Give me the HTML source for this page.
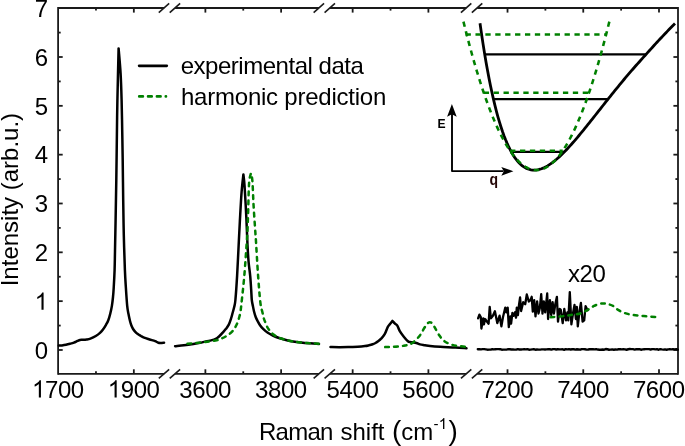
<!DOCTYPE html><html><head><meta charset="utf-8"><title>Raman</title><style>html,body{margin:0;padding:0;background:#fff}</style></head><body><svg width="685" height="446" viewBox="0 0 685 446" style="display:block;will-change:transform">
<rect width="685" height="446" fill="#fff"/>
<g stroke="#1a1a1a" stroke-width="1.8" fill="none" stroke-linecap="butt">
<line x1="58.1" y1="7.1" x2="58.1" y2="374.79999999999995"/>
<line x1="678.0" y1="7.1" x2="678.0" y2="374.79999999999995"/>
<line x1="58.10" y1="8.0" x2="164.14" y2="8.0"/>
<line x1="175.09" y1="8.0" x2="318.99" y2="8.0"/>
<line x1="329.94" y1="8.0" x2="466.27" y2="8.0"/>
<line x1="477.22" y1="8.0" x2="678.00" y2="8.0"/>
<line x1="58.10" y1="373.9" x2="164.14" y2="373.9"/>
<line x1="175.09" y1="373.9" x2="318.99" y2="373.9"/>
<line x1="329.94" y1="373.9" x2="466.27" y2="373.9"/>
<line x1="477.22" y1="373.9" x2="678.00" y2="373.9"/>
</g>
<g stroke="#1a1a1a" stroke-width="1.6" stroke-linecap="butt">
<line x1="158.79" y1="12.55" x2="169.19" y2="3.45"/>
<line x1="169.74" y1="12.55" x2="180.14" y2="3.45"/>
<line x1="313.64" y1="12.55" x2="324.04" y2="3.45"/>
<line x1="324.59" y1="12.55" x2="334.99" y2="3.45"/>
<line x1="460.92" y1="12.55" x2="471.32" y2="3.45"/>
<line x1="471.87" y1="12.55" x2="482.27" y2="3.45"/>
<line x1="158.79" y1="378.45" x2="169.19" y2="369.35"/>
<line x1="169.74" y1="378.45" x2="180.14" y2="369.35"/>
<line x1="313.64" y1="378.45" x2="324.04" y2="369.35"/>
<line x1="324.59" y1="378.45" x2="334.99" y2="369.35"/>
<line x1="460.92" y1="378.45" x2="471.32" y2="369.35"/>
<line x1="471.87" y1="378.45" x2="482.27" y2="369.35"/>
</g>
<g stroke="#1a1a1a" stroke-width="1.8">
<line x1="133.84" y1="373.9" x2="133.84" y2="369.29999999999995"/>
<line x1="133.84" y1="8.0" x2="133.84" y2="12.6"/>
<line x1="205.38" y1="373.9" x2="205.38" y2="369.29999999999995"/>
<line x1="205.38" y1="8.0" x2="205.38" y2="12.6"/>
<line x1="281.12" y1="373.9" x2="281.12" y2="369.29999999999995"/>
<line x1="281.12" y1="8.0" x2="281.12" y2="12.6"/>
<line x1="352.66" y1="373.9" x2="352.66" y2="369.29999999999995"/>
<line x1="352.66" y1="8.0" x2="352.66" y2="12.6"/>
<line x1="428.40" y1="373.9" x2="428.40" y2="369.29999999999995"/>
<line x1="428.40" y1="8.0" x2="428.40" y2="12.6"/>
<line x1="507.52" y1="373.9" x2="507.52" y2="369.29999999999995"/>
<line x1="507.52" y1="8.0" x2="507.52" y2="12.6"/>
<line x1="583.26" y1="373.9" x2="583.26" y2="369.29999999999995"/>
<line x1="583.26" y1="8.0" x2="583.26" y2="12.6"/>
<line x1="659.00" y1="373.9" x2="659.00" y2="369.29999999999995"/>
<line x1="659.00" y1="8.0" x2="659.00" y2="12.6"/>
<line x1="95.97" y1="373.9" x2="95.97" y2="371.29999999999995"/>
<line x1="95.97" y1="8.0" x2="95.97" y2="10.6"/>
<line x1="243.25" y1="373.9" x2="243.25" y2="371.29999999999995"/>
<line x1="243.25" y1="8.0" x2="243.25" y2="10.6"/>
<line x1="390.53" y1="373.9" x2="390.53" y2="371.29999999999995"/>
<line x1="390.53" y1="8.0" x2="390.53" y2="10.6"/>
<line x1="545.39" y1="373.9" x2="545.39" y2="371.29999999999995"/>
<line x1="545.39" y1="8.0" x2="545.39" y2="10.6"/>
<line x1="621.13" y1="373.9" x2="621.13" y2="371.29999999999995"/>
<line x1="621.13" y1="8.0" x2="621.13" y2="10.6"/>
<line x1="58.1" y1="349.98" x2="62.7" y2="349.98"/>
<line x1="678.0" y1="349.98" x2="673.4" y2="349.98"/>
<line x1="58.1" y1="301.15" x2="62.7" y2="301.15"/>
<line x1="678.0" y1="301.15" x2="673.4" y2="301.15"/>
<line x1="58.1" y1="252.32" x2="62.7" y2="252.32"/>
<line x1="678.0" y1="252.32" x2="673.4" y2="252.32"/>
<line x1="58.1" y1="203.49" x2="62.7" y2="203.49"/>
<line x1="678.0" y1="203.49" x2="673.4" y2="203.49"/>
<line x1="58.1" y1="154.66" x2="62.7" y2="154.66"/>
<line x1="678.0" y1="154.66" x2="673.4" y2="154.66"/>
<line x1="58.1" y1="105.83" x2="62.7" y2="105.83"/>
<line x1="678.0" y1="105.83" x2="673.4" y2="105.83"/>
<line x1="58.1" y1="57.00" x2="62.7" y2="57.00"/>
<line x1="678.0" y1="57.00" x2="673.4" y2="57.00"/>
<line x1="58.1" y1="325.56" x2="60.7" y2="325.56"/>
<line x1="678.0" y1="325.56" x2="675.4" y2="325.56"/>
<line x1="58.1" y1="276.74" x2="60.7" y2="276.74"/>
<line x1="678.0" y1="276.74" x2="675.4" y2="276.74"/>
<line x1="58.1" y1="227.90" x2="60.7" y2="227.90"/>
<line x1="678.0" y1="227.90" x2="675.4" y2="227.90"/>
<line x1="58.1" y1="179.07" x2="60.7" y2="179.07"/>
<line x1="678.0" y1="179.07" x2="675.4" y2="179.07"/>
<line x1="58.1" y1="130.24" x2="60.7" y2="130.24"/>
<line x1="678.0" y1="130.24" x2="675.4" y2="130.24"/>
<line x1="58.1" y1="81.42" x2="60.7" y2="81.42"/>
<line x1="678.0" y1="81.42" x2="675.4" y2="81.42"/>
<line x1="58.1" y1="32.59" x2="60.7" y2="32.59"/>
<line x1="678.0" y1="32.59" x2="675.4" y2="32.59"/>
</g>
<g font-family="'Liberation Sans', sans-serif" font-size="24" fill="#000">
<path d="M763,0 L583,0 L583,1147 Q518,1085 412.5,1023 Q307,961 223,930 L223,1104 Q374,1175 487,1276 Q600,1377 647,1472 L763,1472 Z" transform="translate(32.00,397.50) scale(0.01172,-0.01172)" fill="#000"/>
<text x="44.95" y="397.5" letter-spacing="-0.4">700</text>
<path d="M763,0 L583,0 L583,1147 Q518,1085 412.5,1023 Q307,961 223,930 L223,1104 Q374,1175 487,1276 Q600,1377 647,1472 L763,1472 Z" transform="translate(107.74,397.50) scale(0.01172,-0.01172)" fill="#000"/>
<text x="120.69" y="397.5" letter-spacing="-0.4">900</text>
<text x="179.29" y="397.5" letter-spacing="-0.4">3600</text>
<text x="255.03" y="397.5" letter-spacing="-0.4">3800</text>
<text x="326.57" y="397.5" letter-spacing="-0.4">5400</text>
<text x="402.31" y="397.5" letter-spacing="-0.4">5600</text>
<text x="481.42" y="397.5" letter-spacing="-0.4">7200</text>
<text x="557.16" y="397.5" letter-spacing="-0.4">7400</text>
<text x="632.90" y="397.5" letter-spacing="-0.4">7600</text>
<text x="48" y="358.68" text-anchor="end">0</text>
<path d="M763,0 L583,0 L583,1147 Q518,1085 412.5,1023 Q307,961 223,930 L223,1104 Q374,1175 487,1276 Q600,1377 647,1472 L763,1472 Z" transform="translate(34.65,309.85) scale(0.01172,-0.01172)" fill="#000"/>
<text x="48" y="261.02" text-anchor="end">2</text>
<text x="48" y="212.19" text-anchor="end">3</text>
<text x="48" y="163.36" text-anchor="end">4</text>
<text x="48" y="114.53" text-anchor="end">5</text>
<text x="48" y="65.70" text-anchor="end">6</text>
<text x="48" y="16.87" text-anchor="end">7</text>
<text x="180.7" y="73.8" letter-spacing="-0.475">experimental data</text>
<text x="181.0" y="105.3" letter-spacing="-0.23">harmonic prediction</text>
<text x="568.1" y="281.6" letter-spacing="-0.5">x20</text>
<text x="259.0" y="439.6" letter-spacing="-0.75">Raman</text>
<text x="340.5" y="439.6">shift</text>
<text x="392.1" y="439.6" font-size="28">(</text>
<text x="401.2" y="439.6">cm</text>
<text x="433.6" y="429.0" font-size="15.2">-</text>
<text x="448.6" y="439.6" font-size="28">)</text>
<text transform="translate(18,286.3) rotate(-90)">Intensity (arb.u.)</text>
<path d="M763,0 L583,0 L583,1147 Q518,1085 412.5,1023 Q307,961 223,930 L223,1104 Q374,1175 487,1276 Q600,1377 647,1472 L763,1472 Z" transform="translate(438.70,429.00) scale(0.00742,-0.00742)" fill="#000"/>
</g>
<line x1="139.1" y1="65.85" x2="166.8" y2="65.85" stroke="#000" stroke-width="2.6" stroke-linecap="round"/>
<line x1="139.2" y1="96.4" x2="166.0" y2="96.4" stroke="#008000" stroke-width="2.6" stroke-linecap="round" stroke-dasharray="3.7 5.15"/>
<path d="M58.80,345.60 C59.33,345.57 60.80,345.53 62.00,345.40 C63.20,345.27 64.67,345.07 66.00,344.80 C67.33,344.53 68.68,344.17 70.00,343.80 C71.32,343.43 72.65,343.08 73.90,342.60 C75.15,342.12 76.48,341.35 77.50,340.90 C78.52,340.45 79.08,340.08 80.00,339.90 C80.92,339.72 81.93,339.87 83.00,339.80 C84.07,339.73 85.17,339.70 86.40,339.50 C87.63,339.30 88.83,339.18 90.40,338.60 C91.97,338.02 94.20,336.97 95.80,336.00 C97.40,335.03 98.80,333.90 100.00,332.80 C101.20,331.70 102.00,330.73 103.00,329.40 C104.00,328.07 105.12,326.32 106.00,324.80 C106.88,323.28 107.58,322.18 108.30,320.30 C109.02,318.42 109.70,315.90 110.30,313.50 C110.90,311.10 111.45,308.65 111.90,305.90 C112.35,303.15 112.70,299.98 113.00,297.00 C113.30,294.02 113.43,292.50 113.70,288.00 C113.97,283.50 114.38,276.17 114.60,270.00 C114.82,263.83 114.83,259.33 115.00,251.00 C115.17,242.67 115.38,231.83 115.60,220.00 C115.82,208.17 116.07,195.00 116.30,180.00 C116.53,165.00 116.77,143.33 116.95,130.00 C117.13,116.67 117.12,113.60 117.40,100.00 C117.68,86.40 118.40,57.00 118.60,48.40 C118.93,52.58 120.10,64.90 120.60,73.50 C121.10,82.10 121.33,90.58 121.60,100.00 C121.87,109.42 122.02,120.00 122.20,130.00 C122.38,140.00 122.53,148.33 122.70,160.00 C122.87,171.67 123.02,187.50 123.20,200.00 C123.38,212.50 123.52,223.33 123.80,235.00 C124.08,246.67 124.55,261.17 124.90,270.00 C125.25,278.83 125.52,282.02 125.90,288.00 C126.28,293.98 126.78,301.65 127.20,305.90 C127.62,310.15 127.93,310.98 128.40,313.50 C128.87,316.02 129.50,319.00 130.00,321.00 C130.50,323.00 130.88,324.17 131.40,325.50 C131.92,326.83 132.45,327.95 133.10,329.00 C133.75,330.05 134.52,330.95 135.30,331.80 C136.08,332.65 136.87,333.40 137.80,334.10 C138.73,334.80 139.85,335.40 140.90,336.00 C141.95,336.60 142.65,337.12 144.10,337.70 C145.55,338.28 147.77,338.92 149.60,339.50 C151.43,340.08 153.65,340.67 155.10,341.20 C156.55,341.73 157.25,342.42 158.30,342.70 C159.35,342.98 160.43,342.88 161.40,342.90 C162.37,342.92 163.65,342.82 164.10,342.80" fill="none" stroke="#000" stroke-width="2.5" stroke-linejoin="round" stroke-linecap="round"/>
<path d="M175.10,346.20 C176.58,346.03 180.95,345.58 184.00,345.20 C187.05,344.82 190.73,344.30 193.40,343.90 C196.07,343.50 198.07,343.18 200.00,342.80 C201.93,342.42 203.33,341.97 205.00,341.60 C206.67,341.23 208.22,341.05 210.00,340.60 C211.78,340.15 214.12,339.67 215.70,338.90 C217.28,338.13 218.28,337.10 219.50,336.00 C220.72,334.90 221.92,333.50 223.00,332.30 C224.08,331.10 225.03,330.08 226.00,328.80 C226.97,327.52 227.97,326.28 228.80,324.60 C229.63,322.92 230.37,320.63 231.00,318.70 C231.63,316.77 232.07,314.95 232.60,313.00 C233.13,311.05 233.73,309.17 234.20,307.00 C234.67,304.83 234.92,305.18 235.40,300.00 C235.88,294.82 236.52,285.90 237.10,275.90 C237.68,265.90 238.38,250.15 238.90,240.00 C239.42,229.85 239.75,223.00 240.20,215.00 C240.65,207.00 241.07,198.77 241.60,192.00 C242.13,185.23 243.10,177.33 243.40,174.40 C243.60,176.43 244.10,179.18 244.60,186.60 C245.10,194.02 245.92,209.17 246.40,218.90 C246.88,228.63 247.13,237.82 247.50,245.00 C247.87,252.18 248.15,256.85 248.60,262.00 C249.05,267.15 249.77,271.23 250.20,275.90 C250.63,280.57 250.93,285.98 251.20,290.00 C251.47,294.02 251.52,297.33 251.80,300.00 C252.08,302.67 252.52,304.05 252.90,306.00 C253.28,307.95 253.63,309.87 254.10,311.70 C254.57,313.53 255.12,315.45 255.70,317.00 C256.28,318.55 256.85,319.58 257.60,321.00 C258.35,322.42 259.23,324.13 260.20,325.50 C261.17,326.87 262.13,327.98 263.40,329.20 C264.67,330.42 266.23,331.75 267.80,332.80 C269.37,333.85 270.93,334.63 272.80,335.50 C274.67,336.37 276.67,337.22 279.00,338.00 C281.33,338.78 284.47,339.62 286.80,340.20 C289.13,340.78 290.67,341.12 293.00,341.50 C295.33,341.88 297.97,342.20 300.80,342.50 C303.63,342.80 306.97,343.07 310.00,343.30 C313.03,343.53 317.50,343.80 319.00,343.90" fill="none" stroke="#000" stroke-width="2.5" stroke-linejoin="round" stroke-linecap="round"/>
<path d="M187.50,343.70 C188.92,343.58 193.08,343.28 196.00,343.00 C198.92,342.72 202.50,342.30 205.00,342.00 C207.50,341.70 209.05,341.50 211.00,341.20 C212.95,340.90 214.95,340.63 216.70,340.20 C218.45,339.77 219.93,339.27 221.50,338.60 C223.07,337.93 224.68,337.05 226.10,336.20 C227.52,335.35 228.83,334.47 230.00,333.50 C231.17,332.53 232.17,331.55 233.10,330.40 C234.03,329.25 234.83,327.97 235.60,326.60 C236.37,325.23 237.08,323.80 237.70,322.20 C238.32,320.60 238.83,318.75 239.30,317.00 C239.77,315.25 240.13,314.03 240.50,311.70 C240.87,309.37 240.87,308.97 241.50,303.00 C242.13,297.03 243.40,286.40 244.30,275.90 C245.20,265.40 246.38,247.15 246.90,240.00 C247.42,232.85 247.18,238.00 247.40,233.00 C247.62,228.00 247.92,218.33 248.20,210.00 C248.48,201.67 248.65,189.12 249.10,183.00 C249.55,176.88 250.60,174.92 250.90,173.30 C251.15,174.58 251.95,175.55 252.40,181.00 C252.85,186.45 253.10,197.33 253.60,206.00 C254.10,214.67 255.02,227.33 255.40,233.00 C255.78,238.67 255.45,232.85 255.90,240.00 C256.35,247.15 257.35,265.42 258.10,275.90 C258.85,286.38 259.70,296.93 260.40,302.90 C261.10,308.87 261.70,309.02 262.30,311.70 C262.90,314.38 263.42,317.05 264.00,319.00 C264.58,320.95 265.17,321.90 265.80,323.40 C266.43,324.90 267.03,326.65 267.80,328.00 C268.57,329.35 269.45,330.40 270.40,331.50 C271.35,332.60 272.32,333.70 273.50,334.60 C274.68,335.50 276.08,336.20 277.50,336.90 C278.92,337.60 280.45,338.25 282.00,338.80 C283.55,339.35 284.97,339.75 286.80,340.20 C288.63,340.65 290.67,341.12 293.00,341.50 C295.33,341.88 297.97,342.22 300.80,342.50 C303.63,342.78 306.97,343.00 310.00,343.20 C313.03,343.40 317.50,343.62 319.00,343.70" fill="none" stroke="#008000" stroke-width="2.5" stroke-linejoin="round" stroke-linecap="round" stroke-dasharray="3.7 5.15"/>
<path d="M330.50,347.10 C332.08,347.12 336.75,347.22 340.00,347.20 C343.25,347.18 347.03,347.07 350.00,347.00 C352.97,346.93 355.30,346.95 357.80,346.80 C360.30,346.65 363.13,346.35 365.00,346.10 C366.87,345.85 367.73,345.60 369.00,345.30 C370.27,345.00 371.52,344.68 372.60,344.30 C373.68,343.92 374.58,343.50 375.50,343.00 C376.42,342.50 377.17,342.02 378.10,341.30 C379.03,340.58 380.00,339.88 381.10,338.70 C382.20,337.52 383.60,336.13 384.70,334.20 C385.80,332.27 386.88,328.70 387.70,327.10 C388.52,325.50 388.82,325.63 389.60,324.60 C390.38,323.57 391.93,321.52 392.40,320.90 C392.83,321.35 394.18,322.82 395.00,323.60 C395.82,324.38 396.50,324.33 397.30,325.60 C398.10,326.87 398.72,329.35 399.80,331.20 C400.88,333.05 402.45,335.02 403.80,336.70 C405.15,338.38 406.87,340.42 407.90,341.30 C408.93,342.18 409.25,341.83 410.00,342.00 C410.75,342.17 411.33,342.13 412.40,342.30 C413.47,342.47 415.13,342.65 416.40,343.00 C417.67,343.35 418.57,344.03 420.00,344.40 C421.43,344.77 423.32,344.93 425.00,345.20 C426.68,345.47 427.55,345.73 430.10,346.00 C432.65,346.27 436.08,346.55 440.30,346.80 C444.52,347.05 451.03,347.25 455.40,347.50 C459.77,347.75 464.65,348.17 466.50,348.30" fill="none" stroke="#000" stroke-width="2.5" stroke-linejoin="round" stroke-linecap="round"/>
<path d="M385.2,347.1 C386.33,347.07 389.63,347.02 392.00,346.90 C394.37,346.78 397.23,346.63 399.40,346.40 C401.57,346.17 403.23,345.85 405.00,345.50 C406.77,345.15 408.33,345.08 410.00,344.30 C411.67,343.52 413.32,342.32 415.00,340.80 C416.68,339.28 418.67,337.13 420.10,335.20 C421.53,333.27 422.52,330.97 423.60,329.20 C424.68,327.43 425.82,325.67 426.60,324.60 C427.38,323.53 427.75,323.18 428.30,322.80 C428.85,322.42 429.37,322.30 429.90,322.30 C430.43,322.30 431.00,322.48 431.50,322.80 C432.00,323.12 432.20,323.13 432.90,324.20 C433.60,325.27 434.65,327.37 435.70,329.20 C436.75,331.03 437.93,333.35 439.20,335.20 C440.47,337.05 441.62,338.87 443.30,340.30 C444.98,341.73 447.12,342.88 449.30,343.80 C451.48,344.72 453.53,345.30 456.40,345.80 C459.27,346.30 464.82,346.63 466.50,346.80" fill="none" stroke="#008000" stroke-width="2.5" stroke-linejoin="round" stroke-linecap="round" stroke-dasharray="3.7 5.15"/>
<path d="M477.80,349.22 L479.40,349.12 L481.00,349.33 L482.60,349.16 L484.20,349.10 L485.80,349.33 L487.40,349.69 L489.00,349.61 L490.60,349.59 L492.20,349.21 L493.80,349.43 L495.40,349.24 L497.00,349.17 L498.60,349.12 L500.20,349.20 L501.80,349.70 L503.40,349.63 L505.00,349.61 L506.60,349.61 L508.20,349.19 L509.80,349.27 L511.40,349.49 L513.00,349.56 L514.60,349.65 L516.20,349.67 L517.80,349.11 L519.40,349.47 L521.00,349.52 L522.60,349.40 L524.20,349.17 L525.80,349.38 L527.40,349.11 L529.00,349.70 L530.60,349.66 L532.20,349.43 L533.80,349.26 L535.40,349.69 L537.00,349.45 L538.60,349.67 L540.20,349.64 L541.80,349.41 L543.40,349.34 L545.00,349.47 L546.60,349.35 L548.20,349.16 L549.80,349.26 L551.40,349.62 L553.00,349.08 L554.60,349.08 L556.20,349.49 L557.80,349.25 L559.40,349.42 L561.00,349.38 L562.60,349.29 L564.20,349.75 L565.80,349.19 L567.40,349.34 L569.00,349.19 L570.60,349.49 L572.20,349.24 L573.80,349.30 L575.40,349.57 L577.00,349.27 L578.60,349.44 L580.20,349.68 L581.80,349.12 L583.40,349.09 L585.00,349.21 L586.60,349.59 L588.20,349.48 L589.80,349.22 L591.40,349.28 L593.00,349.17 L594.60,349.37 L596.20,349.08 L597.80,349.54 L599.40,349.68 L601.00,349.72 L602.60,349.56 L604.20,349.72 L605.80,349.06 L607.40,349.25 L609.00,349.73 L610.60,349.59 L612.20,349.34 L613.80,349.71 L615.40,349.48 L617.00,349.62 L618.60,349.26 L620.20,349.18 L621.80,349.36 L623.40,349.15 L625.00,349.32 L626.60,349.72 L628.20,349.28 L629.80,349.06 L631.40,349.08 L633.00,349.17 L634.60,349.60 L636.20,349.30 L637.80,349.25 L639.40,349.12 L641.00,349.74 L642.60,349.35 L644.20,349.20 L645.80,349.09 L647.40,349.09 L649.00,349.17 L650.60,349.52 L652.20,349.15 L653.80,349.08 L655.40,349.39 L657.00,349.22 L658.60,349.75 L660.20,349.14 L661.80,349.42 L663.40,349.59 L665.00,349.34 L666.60,349.74 L668.20,349.38 L669.80,349.22 L671.40,349.34 L673.00,349.08 L674.60,349.34 L676.20,349.22 L677.80,349.67" fill="none" stroke="#000" stroke-width="2.4" stroke-linejoin="round" stroke-linecap="round"/>
<path d="M478.10,318.40 L479.40,314.70 L480.80,317.00 L481.40,328.50 L483.20,318.40 L483.90,324.40 L485.10,319.00 L486.50,321.00 L488.60,323.70 L489.70,306.90 L490.90,318.40 L492.90,315.70 L494.90,311.20 L497.30,323.10 L499.60,315.70 L501.40,326.40 L503.00,317.00 L505.30,307.60 L506.30,312.30 L507.70,307.60 L508.80,327.10 L510.40,316.30 L511.10,323.70 L512.40,313.00 L513.70,315.70 L515.10,312.30 L516.00,317.70 L516.80,307.60 L517.90,315.00 L519.10,304.20 L520.10,297.50 L521.10,311.00 L523.20,302.20 L525.20,304.20 L526.80,294.50 L528.80,301.50 L530.40,300.20 L531.70,296.80 L532.80,311.60 L534.20,300.20 L535.50,316.30 L537.10,301.50 L538.50,313.60 L539.80,308.30 L541.20,294.10 L542.50,313.60 L543.80,301.50 L545.20,312.30 L547.20,293.50 L548.10,319.00 L549.90,300.20 L551.20,315.00 L552.60,302.20 L553.90,313.60 L555.30,304.20 L556.90,296.80 L558.00,321.70 L559.70,308.90 L560.70,309.60 L562.70,323.10 L564.30,308.90 L566.00,320.40 L567.40,312.30 L568.30,320.40 L569.80,292.10 L571.40,324.40 L573.20,312.30 L574.50,304.90 L575.90,319.00 L576.80,306.90 L577.80,326.40 L579.50,311.00 L580.90,302.90 L582.60,321.70 L584.20,320.40 L585.60,306.20 L586.60,308.30 L587.60,310.30" fill="none" stroke="#000" stroke-width="2.3" stroke-linejoin="round" stroke-linecap="round"/>
<path d="M550.6,317.2 C552.17,317.08 557.27,316.77 560.00,316.50 C562.73,316.23 564.73,315.93 567.00,315.60 C569.27,315.27 571.43,314.85 573.60,314.50 C575.77,314.15 577.63,314.28 580.00,313.50 C582.37,312.72 585.45,311.07 587.80,309.80 C590.15,308.53 592.00,306.92 594.10,305.90 C596.20,304.88 598.83,304.12 600.40,303.70 C601.97,303.28 602.45,303.40 603.50,303.40 C604.55,303.40 605.12,303.28 606.70,303.70 C608.28,304.12 611.17,304.92 613.00,305.90 C614.83,306.88 615.87,308.45 617.70,309.60 C619.53,310.75 621.65,311.93 624.00,312.80 C626.35,313.67 629.18,314.32 631.80,314.80 C634.42,315.28 637.08,315.43 639.70,315.70 C642.32,315.97 644.88,316.18 647.50,316.40 C650.12,316.62 654.08,316.90 655.40,317.00" fill="none" stroke="#008000" stroke-width="2.5" stroke-linejoin="round" stroke-linecap="round" stroke-dasharray="3.7 5.15"/>
<line x1="484.73" y1="54.4" x2="646.15" y2="54.4" stroke="#000" stroke-width="2.2"/>
<line x1="493.45" y1="99.2" x2="607.99" y2="99.2" stroke="#000" stroke-width="2.2"/>
<line x1="511.25" y1="151.8" x2="564.46" y2="151.8" stroke="#000" stroke-width="2.2"/>
<path d="M480.00,23.24 L481.50,33.70 L483.00,43.62 L484.50,53.01 L486.00,61.90 L487.50,70.30 L489.00,78.24 L490.50,85.73 L492.00,92.79 L493.50,99.43 L495.00,105.68 L496.50,111.55 L498.00,117.05 L499.50,122.19 L501.00,127.00 L502.50,131.48 L504.00,135.65 L505.50,139.52 L507.00,143.11 L508.50,146.42 L510.00,149.46 L511.50,152.25 L513.00,154.80 L514.50,157.12 L516.00,159.21 L517.50,161.09 L519.00,162.77 L520.50,164.25 L522.00,165.55 L523.50,166.66 L525.00,167.61 L526.50,168.39 L528.00,169.02 L529.50,169.49 L531.00,169.83 L532.50,170.03 L534.00,170.10 L535.50,170.05 L537.00,169.88 L538.50,169.60 L540.00,169.21 L541.50,168.72 L543.00,168.14 L544.50,167.46 L546.00,166.70 L547.50,165.85 L549.00,164.93 L550.50,163.93 L552.00,162.87 L553.50,161.74 L555.00,160.54 L556.50,159.29 L558.00,157.98 L559.50,156.63 L561.00,155.22 L562.50,153.76 L564.00,152.27 L565.50,150.73 L567.00,149.16 L568.50,147.55 L570.00,145.91 L571.50,144.24 L573.00,142.54 L574.50,140.81 L576.00,139.06 L577.50,137.29 L579.00,135.50 L580.50,133.70 L582.00,131.88 L583.50,130.04 L585.00,128.19 L586.50,126.33 L588.00,124.46 L589.50,122.58 L591.00,120.69 L592.50,118.80 L594.00,116.90 L595.50,115.00 L597.00,113.10 L598.50,111.20 L600.00,109.30 L601.50,107.40 L603.00,105.50 L604.50,103.60 L606.00,101.71 L607.50,99.82 L609.00,97.93 L610.50,96.05 L612.00,94.18 L613.50,92.32 L615.00,90.46 L616.50,88.61 L618.00,86.77 L619.50,84.94 L621.00,83.12 L622.50,81.31 L624.00,79.51 L625.50,77.72 L627.00,75.95 L628.50,74.18 L630.00,72.43 L631.50,70.69 L633.00,68.96 L634.50,67.25 L636.00,65.55 L637.50,63.86 L639.00,62.19 L640.50,60.52 L642.00,58.85 L643.50,57.17 L645.00,55.50 L646.50,53.83 L648.00,52.16 L649.50,50.50 L651.00,48.84 L652.50,47.19 L654.00,45.55 L655.50,43.92 L657.00,42.29 L658.50,40.67 L660.00,39.06 L661.50,37.46 L663.00,35.87 L664.50,34.28 L666.00,32.71 L667.50,31.14 L669.00,29.59 L670.50,28.04 L672.00,26.50 L673.50,24.98 L675.00,23.46" fill="none" stroke="#000" stroke-width="2.8" stroke-linecap="butt"/>
<path d="M463.45,21.62 L464.67,26.53 L465.88,31.36 L467.10,36.10 L468.31,40.76 L469.53,45.34 L470.75,49.83 L471.96,54.25 L473.18,58.58 L474.39,62.83 L475.61,66.99 L476.82,71.08 L478.04,75.08 L479.26,78.99 L480.47,82.83 L481.69,86.58 L482.90,90.25 L484.12,93.84 L485.33,97.35 L486.55,100.77 L487.77,104.11 L488.98,107.37 L490.20,110.54 L491.41,113.64 L492.63,116.65 L493.85,119.58 L495.06,122.42 L496.28,125.19 L497.49,127.87 L498.71,130.47 L499.93,132.98 L501.14,135.41 L502.36,137.77 L503.57,140.03 L504.79,142.22 L506.00,144.32 L507.22,146.34 L508.44,148.28 L509.65,150.14 L510.87,151.91 L512.08,153.60 L513.30,155.21 L514.51,156.74 L515.73,158.18 L516.95,159.54 L518.16,160.82 L519.38,162.02 L520.59,163.13 L521.81,164.16 L523.03,165.11 L524.24,165.98 L525.46,166.76 L526.67,167.46 L527.89,168.08 L529.11,168.62 L530.32,169.07 L531.54,169.44 L532.75,169.73 L533.97,169.94 L535.18,170.06 L536.40,170.10 L537.62,170.06 L538.83,169.94 L540.05,169.73 L541.26,169.44 L542.48,169.07 L543.69,168.62 L544.91,168.08 L546.13,167.46 L547.34,166.76 L548.56,165.98 L549.77,165.11 L550.99,164.16 L552.21,163.13 L553.42,162.02 L554.64,160.82 L555.85,159.54 L557.07,158.18 L558.28,156.74 L559.50,155.21 L560.72,153.60 L561.93,151.91 L563.15,150.14 L564.36,148.28 L565.58,146.34 L566.80,144.32 L568.01,142.22 L569.23,140.03 L570.44,137.77 L571.66,135.41 L572.88,132.98 L574.09,130.47 L575.31,127.87 L576.52,125.19 L577.74,122.42 L578.95,119.58 L580.17,116.65 L581.39,113.64 L582.60,110.54 L583.82,107.37 L585.03,104.11 L586.25,100.77 L587.47,97.35 L588.68,93.84 L589.90,90.25 L591.11,86.58 L592.33,82.83 L593.54,78.99 L594.76,75.08 L595.98,71.08 L597.19,66.99 L598.41,62.83 L599.62,58.58 L600.84,54.25 L602.06,49.83 L603.27,45.34 L604.49,40.76 L605.70,36.10 L606.92,31.36 L608.13,26.53 L609.35,21.62" fill="none" stroke="#008000" stroke-width="2.55" stroke-dasharray="5.3 4.651"/>
<line x1="465.56" y1="34.4" x2="606.14" y2="34.4" stroke="#008000" stroke-width="2.55" stroke-dasharray="5.3 4.6"/>
<line x1="483.73" y1="92.7" x2="589.07" y2="92.7" stroke="#008000" stroke-width="2.55" stroke-dasharray="5.3 4.6"/>
<line x1="510.10" y1="150.8" x2="562.70" y2="150.8" stroke="#008000" stroke-width="2.55" stroke-dasharray="5.3 4.6"/>
<path d="M452,114 L452,171.1 L503.5,171.1" fill="none" stroke="#000" stroke-width="1.9" stroke-linejoin="round"/>
<path d="M451.9,104.0 L456.7,116.8 L451.9,114.3 L447.1,116.8 Z" fill="#000"/>
<path d="M513.4,171.2 L501.3,166.9 L503.8,171.2 L501.3,175.7 Z" fill="#000"/>
<text transform="translate(437.5,128.4) scale(0.9,1)" font-family="'Liberation Sans', sans-serif" font-weight="bold" font-size="13.5" fill="#000">E</text>
<text transform="translate(489.6,184.6) scale(0.9,1)" font-family="'Liberation Sans', sans-serif" font-weight="bold" font-size="15.6" fill="#240606">q</text>
</svg></body></html>
